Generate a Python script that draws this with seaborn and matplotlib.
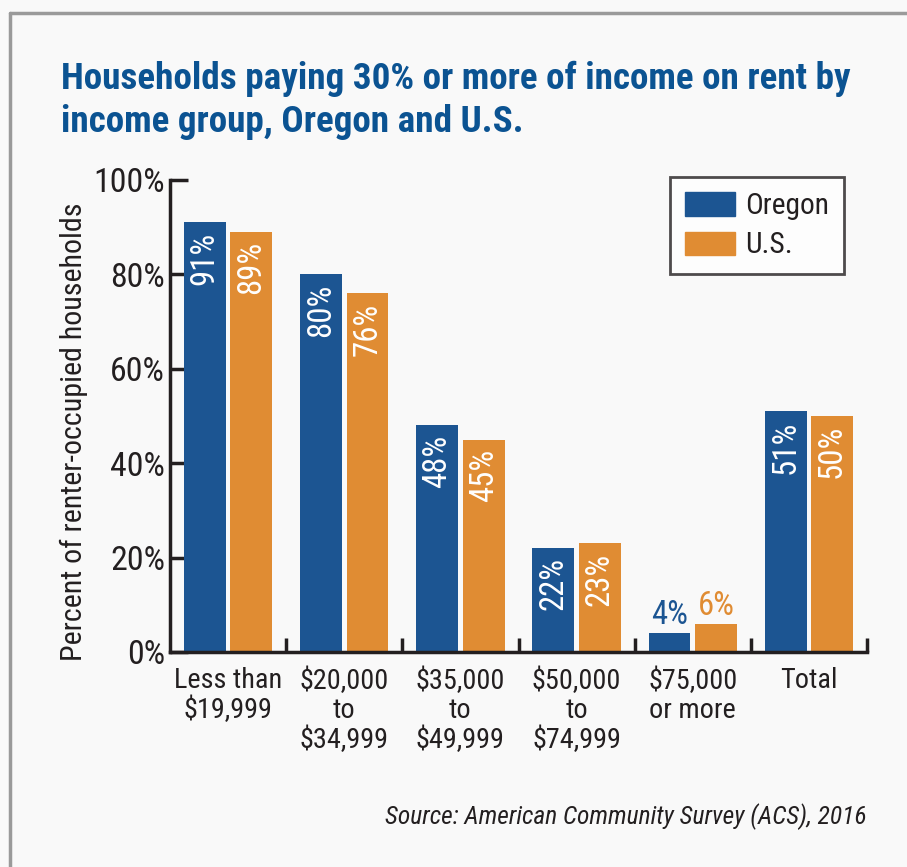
import matplotlib
matplotlib.use("Agg")
import matplotlib.pyplot as plt
import matplotlib.patches as mpatches
import matplotlib.font_manager as fm
from matplotlib.lines import Line2D
import seaborn as sns
import pandas as pd

# ---- data ----
categories = ["Less than\n$19,999", "$20,000\nto\n$34,999", "$35,000\nto\n$49,999",
              "$50,000\nto\n$74,999", "$75,000\nor more", "Total"]
oregon = [91, 80, 48, 22, 4, 51]
us = [89, 76, 45, 23, 6, 50]
series_names = ["Oregon", "U.S."]
yticks = [0, 20, 40, 60, 80, 100]
ytick_labels = ["0%", "20%", "40%", "60%", "80%", "100%"]
title_lines = ["Households paying 30% or more of income on rent by",
               "income group, Oregon and U.S."]
ylabel = "Percent of renter-occupied households"
source = "Source: American Community Survey (ACS), 2016"

BLUE = "#1c5592"
ORANGE = "#e08c33"
TITLE_BLUE = "#0b5392"
TEXT = "#231f20"
BG = "#f9f9f9"

df = pd.DataFrame({
    "group": categories * 2,
    "region": [series_names[0]] * len(categories) + [series_names[1]] * len(categories),
    "value": oregon + us,
})

sns.set_theme(style="white")

# ---- pick a condensed sans font if one is installed ----
entries = fm.fontManager.ttflist
names = {e.name for e in entries}
family, stretch = None, "normal"
for nm in ["Liberation Sans Narrow", "Roboto Condensed", "Arial Narrow", "Nimbus Sans Narrow",
           "Noto Sans Condensed", "Open Sans Condensed", "DejaVu Sans Condensed"]:
    if nm in names:
        family = nm
        break
if family is None:
    for nm in ["Roboto", "Noto Sans", "Open Sans", "DejaVu Sans"]:
        if any(e.name == nm and str(e.stretch) in ("condensed", "semi-condensed") for e in entries):
            family, stretch = nm, "condensed"
            break
if family is None:
    family = "Liberation Sans"
plt.rcParams["font.family"] = [family, "DejaVu Sans"]
plt.rcParams["font.stretch"] = stretch

W, H = 907, 867
fig = plt.figure(figsize=(9.07, 8.67), dpi=100, facecolor=BG)
renderer = fig.canvas.get_renderer()


def measure(s, size=20, dim="w", **kw):
    t = fig.text(0, 0, s, fontsize=size, **kw)
    bb = t.get_window_extent(renderer)
    t.remove()
    return bb.width if dim == "w" else bb.height


def fit(s, target, **kw):
    return 20 * target / measure(s, 20, **kw)


fs_tick = fit("80%", 55)
fs_xtick = fit("Less than", 108)
fs_bar = fit("91%", 53)
fs_leg = fit("Oregon", 84)
fs_ylab = fit(ylabel, 457)
fs_title = fit(title_lines[0], 789, fontweight="bold")
fs_src = fit(source, 481, style="italic")

ax = fig.add_axes([170 / W, 1 - 652 / H, (867 - 170) / W, (652 - 180) / H])
ax.set_facecolor(BG)

sns.barplot(data=df, x="group", y="value", hue="region", order=categories,
            hue_order=series_names, palette=[BLUE, ORANGE], width=0.8, gap=0.1,
            saturation=1, ax=ax, legend=False, linewidth=0)

ax.set_ylim(0, 100)
ax.set_xlim(-0.5, len(categories) - 0.5)
ax.set_yticks(yticks)
ax.set_yticklabels(ytick_labels, fontsize=fs_tick, color=TEXT)
ax.set_xticks(range(len(categories)))
xt_px = fs_xtick * 100 / 72
ax.set_xticklabels(categories, fontsize=fs_xtick, color=TEXT,
                   linespacing=1.26 * 29 / (1.17 * xt_px))
ax.tick_params(axis="x", length=0, pad=11)
ax.tick_params(axis="y", direction="in", length=13, width=2.5, color=TEXT, pad=3.5, left=True)
ax.set_xticks([i + 0.5 for i in range(len(categories))], minor=True)
ax.tick_params(axis="x", which="minor", direction="in", length=10, width=2.5, color=TEXT, bottom=True)
ax.set_xlabel("")
ax.set_ylabel(ylabel, fontsize=fs_ylab, color=TEXT)
ax.yaxis.set_label_coords((88 - 170) / 697, (652 - 431.5) / 472)
for s in ["top", "right"]:
    ax.spines[s].set_visible(False)
for s in ["left", "bottom"]:
    ax.spines[s].set_color(TEXT)
    ax.spines[s].set_linewidth(2.5)

# value labels
colors = [BLUE, ORANGE]
for cont, col in zip(ax.containers, colors):
    for bar in cont:
        h = bar.get_height()
        xc = bar.get_x() + bar.get_width() / 2
        lab = f"{h:.0f}%"
        if h >= 10:
            ax.annotate(lab, (xc, h), xytext=(0, -6.5), textcoords="offset points",
                        rotation=90, ha="center", va="top", color="white", fontsize=fs_bar)
        else:
            ax.annotate(lab, (xc, h), xytext=(0, 1.5), textcoords="offset points",
                        ha="center", va="bottom", color=col, fontsize=fs_bar)

# legend
lp = fs_leg * 100 / 72
handles = [mpatches.Patch(color=BLUE, label=series_names[0]),
           mpatches.Patch(color=ORANGE, label=series_names[1])]
leg = ax.legend(handles=handles, loc="upper left",
                bbox_to_anchor=((670 - 170) / 697, 1 + 3 / 472),
                frameon=True, fancybox=False, fontsize=fs_leg,
                handlelength=50 / lp, handleheight=25 / lp,
                handletextpad=10 / lp, labelspacing=max(0.1, (46 - 1.17 * lp) / lp),
                borderpad=15 / lp, borderaxespad=0)
leg.get_frame().set_edgecolor(TEXT)
leg.get_frame().set_linewidth(2)
leg.get_frame().set_facecolor("white")
for t in leg.get_texts():
    t.set_color(TEXT)

# title & source
fig.text(61 / W, 1 - 89 / H, title_lines[0], fontsize=fs_title, fontweight="bold",
         color=TITLE_BLUE, ha="left", va="baseline")
fig.text(61 / W, 1 - 132 / H, title_lines[1], fontsize=fs_title, fontweight="bold",
         color=TITLE_BLUE, ha="left", va="baseline")
fig.text(867 / W, 1 - 824 / H, source, fontsize=fs_src, style="italic", color=TEXT,
         ha="right", va="baseline")

# border
fig.add_artist(Line2D([10 / W, 10 / W], [0, 1 - 13 / H], transform=fig.transFigure,
                      color="#9a9a9a", linewidth=2.5))
fig.add_artist(Line2D([10 / W, 1], [1 - 13 / H, 1 - 13 / H], transform=fig.transFigure,
                      color="#9a9a9a", linewidth=2.5))

fig.savefig("out.png", dpi=100, facecolor=BG)
